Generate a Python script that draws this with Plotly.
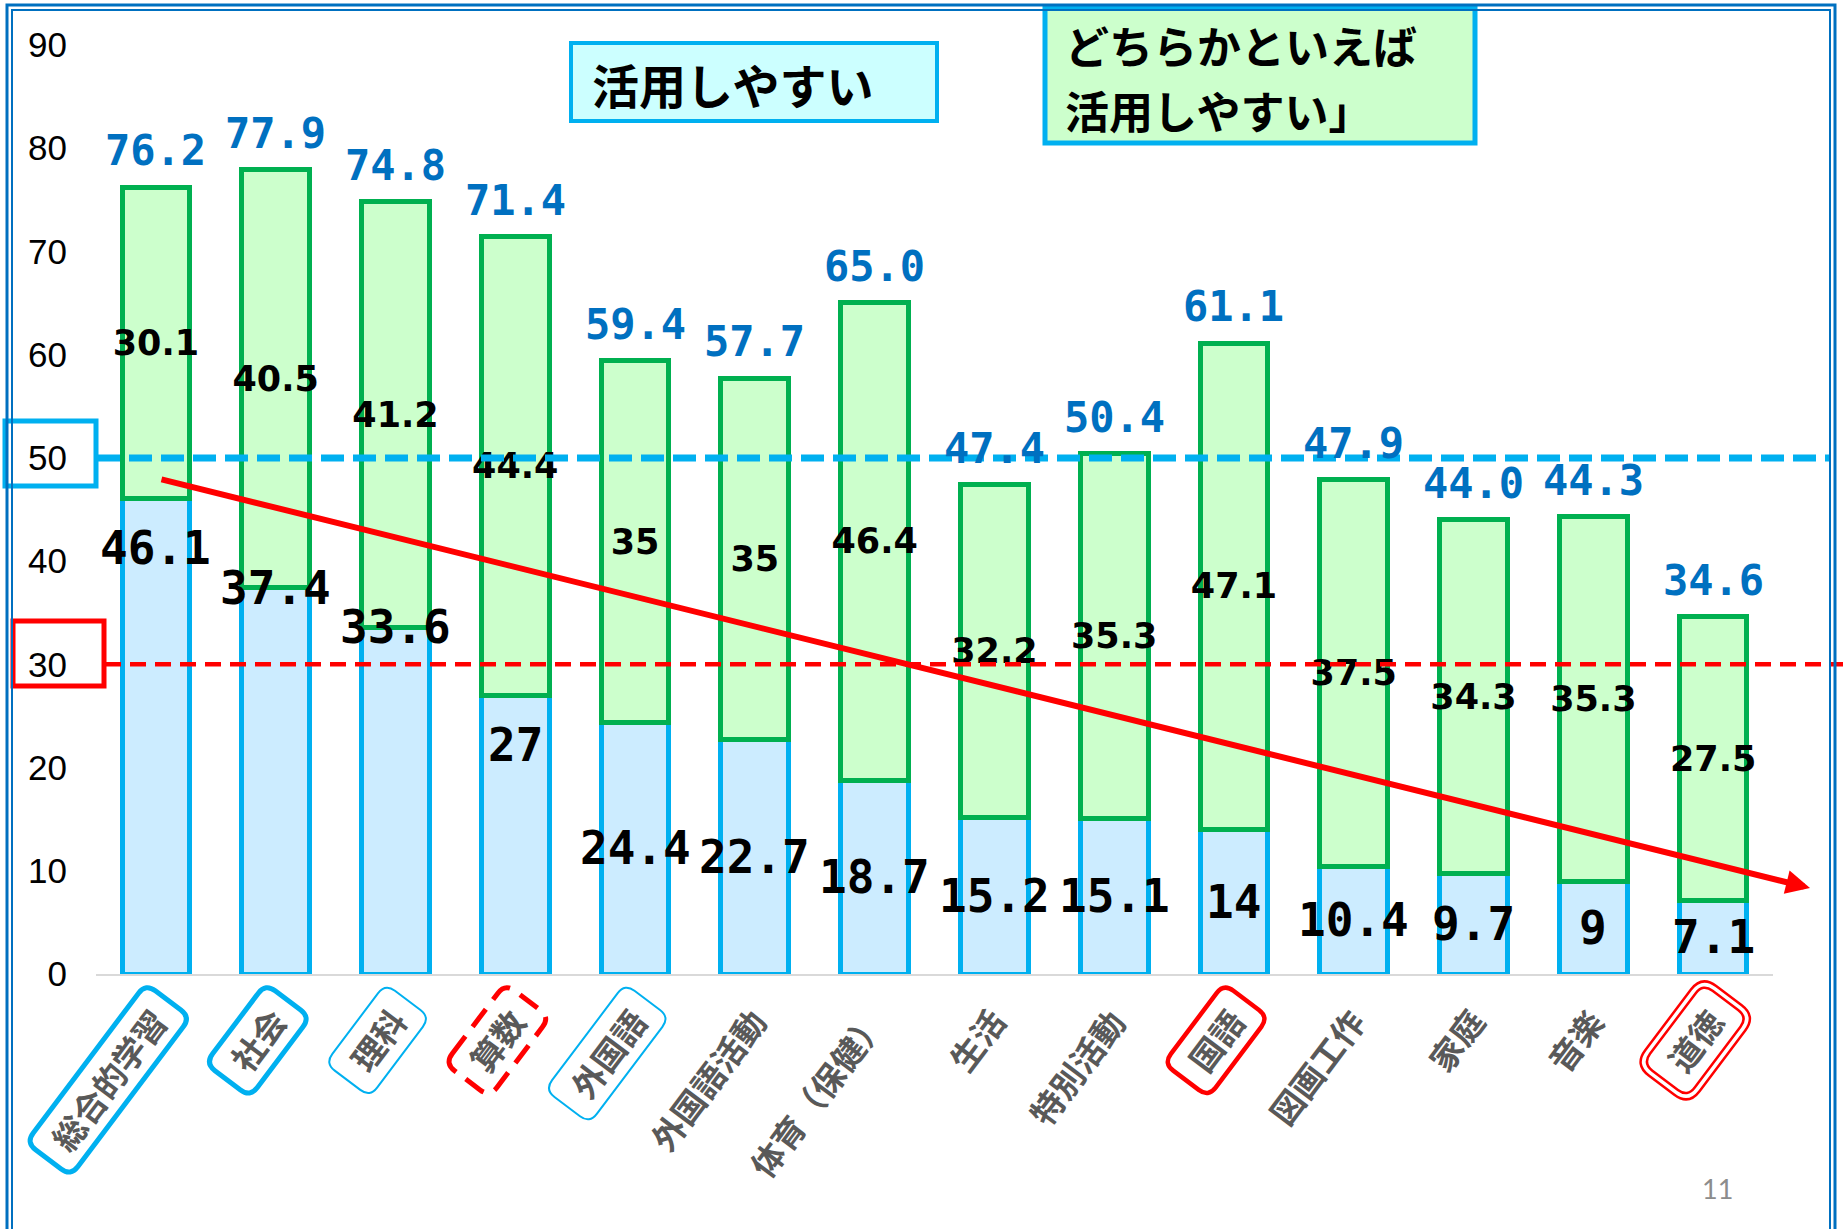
import math
import plotly.graph_objects as go

# ---- data ----
categories = ["総合的学習", "社会", "理科", "算数", "外国語", "外国語活動", "体育（保健）",
              "生活", "特別活動", "国語", "図画工作", "家庭", "音楽", "道徳"]
easy = [46.1, 37.4, 33.6, 27, 24.4, 22.7, 18.7, 15.2, 15.1, 14, 10.4, 9.7, 9, 7.1]
rather_easy = [30.1, 40.5, 41.2, 44.4, 35, 35, 46.4, 32.2, 35.3, 47.1, 37.5, 34.3, 35.3, 27.5]
totals = [76.2, 77.9, 74.8, 71.4, 59.4, 57.7, 65.0, 47.4, 50.4, 61.1, 47.9, 44.0, 44.3, 34.6]
y_ticks = [0, 10, 20, 30, 40, 50, 60, 70, 80, 90]
reference_high = 50
reference_low = 30
legend_easy = "活用しやすい"
legend_rather = ["どちらかといえば", "活用しやすい」"]

# ---- page geometry (pixels) ----
FIG_W, FIG_H = 1843, 1229
ML, MR, MT, MB = 96, 70, 45, 255
PW = FIG_W - ML - MR
PH = FIG_H - MT - MB
N = len(categories)
STEP = PW / N


def px2x(px):
    return (px - ML) / PW


def py2y(py):
    return (MT + PH - py) / PH


def bar_px(i):
    return ML + (i + 0.5) * STEP


def rounded_box_path(cx, cy, half_len, half_h, angle_deg, r):
    th = math.radians(angle_deg)
    ux, uy = math.cos(th), -math.sin(th)
    vx, vy = math.sin(th), math.cos(th)

    def p(s, t):
        X = cx + s * ux + t * vx
        Y = cy + s * uy + t * vy
        return f"{px2x(X):.5f},{py2y(Y):.5f}"

    a, b = half_len, half_h
    return (f"M{p(-a + r, -b)} L{p(a - r, -b)} Q{p(a, -b)} {p(a, -b + r)} "
            f"L{p(a, b - r)} Q{p(a, b)} {p(a - r, b)} L{p(-a + r, b)} "
            f"Q{p(-a, b)} {p(-a, b - r)} L{p(-a, -b + r)} Q{p(-a, -b)} {p(-a + r, -b)} Z")


def label_text(v):
    return f"{v:g}"


BLUE_LINE = "#00B0F0"
BLUE_FILL = "#CCECFF"
GREEN_LINE = "#00B050"
GREEN_FILL = "#CCFFCC"
RED = "#FF0000"
FRAME = "#0070C0"
NUM_FONT = "DejaVu Sans Mono"
JP_FONT = "Noto Sans CJK JP"

fig = go.Figure()

fig.add_trace(go.Bar(
    x=categories, y=easy, name=legend_easy,
    marker=dict(color=BLUE_FILL, line=dict(color=BLUE_LINE, width=5)),
    width=0.565, hoverinfo="skip",
))
fig.add_trace(go.Bar(
    x=categories, y=rather_easy, name="".join(legend_rather),
    marker=dict(color=GREEN_FILL, line=dict(color=GREEN_LINE, width=5)),
    width=0.565, hoverinfo="skip",
    text=[label_text(v) for v in rather_easy],
    textposition="inside", insidetextanchor="middle", constraintext="none", textangle=0,
    insidetextfont=dict(family="DejaVu Sans", size=35, color="black", weight=700),
))

annotations = []

# totals above each stack
for c, t in zip(categories, totals):
    annotations.append(dict(
        x=c, y=t, xref="x", yref="y", text=f"{t:.1f}", showarrow=False,
        yanchor="bottom", yshift=10,
        font=dict(family=NUM_FONT, size=42, color="#0070C0", weight=700),
    ))

# values of the lower segment
easy_label_place = ["below_top", "on_top", "on_top", "below_top"] + ["middle"] * (N - 4)
for c, v, place in zip(categories, easy, easy_label_place):
    if place == "middle":
        yv, shift = v / 2, 0
    elif place == "on_top":
        yv, shift = v, 0
    else:
        yv, shift = v, -50
    annotations.append(dict(
        x=c, y=yv, xref="x", yref="y", text=label_text(v), showarrow=False,
        yanchor="middle", yshift=shift,
        font=dict(family=NUM_FONT, size=46, color="black", weight=700),
    ))

# rotated category labels under the axis
ANGLE = 53
CAT_FS = 33
shapes = []
box_styles = {
    "総合的学習": [dict(color=BLUE_LINE, width=5)],
    "社会": [dict(color=BLUE_LINE, width=5)],
    "理科": [dict(color=BLUE_LINE, width=2)],
    "算数": [dict(color=RED, width=5, dash="22px,12px")],
    "外国語": [dict(color=BLUE_LINE, width=2)],
    "国語": [dict(color=RED, width=4.5)],
    "道徳": [dict(color=RED, width=2.5, grow=0), dict(color=RED, width=2.5, grow=6)],
}
th = math.radians(ANGLE)
for i, name in enumerate(categories):
    L = len(name) * CAT_FS
    ex, ey = bar_px(i) + 2, 1014
    cx = ex - math.cos(th) * L / 2
    cy = ey + math.sin(th) * L / 2
    annotations.append(dict(
        x=px2x(cx), y=py2y(cy), xref="paper", yref="paper", text=name,
        showarrow=False, textangle=-ANGLE, xanchor="center", yanchor="middle",
        font=dict(family=JP_FONT, size=CAT_FS, color="#595959", weight=700),
    ))
    for st in box_styles.get(name, []):
        g = st.get("grow", 0)
        shapes.append(dict(
            type="path", xref="paper", yref="paper",
            path=rounded_box_path(cx, cy, L / 2 + 17 + g, 28 + g, ANGLE, 12 + g),
            line=dict(color=st["color"], width=st["width"], dash=st.get("dash", "solid")),
            fillcolor="rgba(0,0,0,0)", layer="above",
        ))

# legend-style boxes
shapes.append(dict(type="rect", xref="paper", yref="paper",
                   x0=px2x(571), x1=px2x(937), y0=py2y(121), y1=py2y(43),
                   line=dict(color=BLUE_LINE, width=4), fillcolor="#CCFFFF", layer="above"))
shapes.append(dict(type="rect", xref="paper", yref="paper",
                   x0=px2x(1045), x1=px2x(1475), y0=py2y(143), y1=py2y(7),
                   line=dict(color=BLUE_LINE, width=5), fillcolor=GREEN_FILL, layer="above"))
annotations.append(dict(
    x=px2x(590), y=py2y(83), xref="paper", yref="paper", text=legend_easy,
    showarrow=False, xanchor="left", yanchor="middle",
    font=dict(family=JP_FONT, size=47, color="black", weight=700),
))
for line_text, line_y in zip(legend_rather, [45, 110]):
    annotations.append(dict(
        x=px2x(1064), y=py2y(line_y), xref="paper", yref="paper", text=line_text,
        showarrow=False, xanchor="left", yanchor="middle", borderpad=0,
        font=dict(family=JP_FONT, size=44, color="black", weight=700),
    ))

# boxes around the 50 / 30 tick labels
shapes.append(dict(type="rect", xref="paper", yref="paper",
                   x0=px2x(5), x1=px2x(96), y0=py2y(486), y1=py2y(421),
                   line=dict(color=BLUE_LINE, width=5), fillcolor="rgba(0,0,0,0)", layer="above"))
shapes.append(dict(type="rect", xref="paper", yref="paper",
                   x0=px2x(13), x1=px2x(104), y0=py2y(686), y1=py2y(621),
                   line=dict(color=RED, width=5), fillcolor="rgba(0,0,0,0)", layer="above"))

# reference levels
shapes.append(dict(type="line", xref="paper", yref="y",
                   x0=px2x(97), x1=px2x(1830), y0=reference_high, y1=reference_high,
                   line=dict(color=BLUE_LINE, width=7, dash="23px,9px"), layer="above"))
shapes.append(dict(type="line", xref="paper", yref="y",
                   x0=px2x(105), x1=px2x(1843), y0=reference_low, y1=reference_low,
                   line=dict(color=RED, width=4.5, dash="16px,9px"), layer="above"))

# slide frame (double line)
shapes.append(dict(type="rect", xref="paper", yref="paper",
                   x0=px2x(7), x1=px2x(1835), y0=py2y(1260), y1=py2y(5),
                   line=dict(color=FRAME, width=3), fillcolor="rgba(0,0,0,0)", layer="above"))
shapes.append(dict(type="rect", xref="paper", yref="paper",
                   x0=px2x(12), x1=px2x(1830), y0=py2y(1260), y1=py2y(10),
                   line=dict(color=FRAME, width=2), fillcolor="rgba(0,0,0,0)", layer="above"))

# downward trend arrow
tip_x, tip_y = 1810, 888
tail_x, tail_y = 160, 479
annotations.append(dict(
    x=px2x(tip_x), y=py2y(tip_y), xref="paper", yref="paper", text="",
    showarrow=True, ax=tail_x - tip_x, ay=tail_y - tip_y, axref="pixel", ayref="pixel",
    arrowhead=2, arrowsize=0.8, arrowwidth=6, arrowcolor=RED, standoff=0,
))

# page number
annotations.append(dict(
    x=px2x(1717), y=py2y(1188), xref="paper", yref="paper", text="11",
    showarrow=False, xanchor="center", yanchor="middle",
    font=dict(family="Lato", size=27, color="#8C8C8C"),
))

fig.update_layout(
    width=FIG_W, height=FIG_H,
    margin=dict(l=ML, r=MR, t=MT, b=MB, autoexpand=False),
    barmode="stack", bargap=0.435,
    plot_bgcolor="white", paper_bgcolor="white",
    showlegend=False,
    shapes=shapes, annotations=annotations,
    xaxis=dict(type="category", range=[-0.5, N - 0.5], showticklabels=False, ticks="",
               showgrid=False, zeroline=False, showline=True, linecolor="#D9D9D9", linewidth=2),
    yaxis=dict(range=[0, 90], tickvals=y_ticks, ticks="", showgrid=False, zeroline=False,
               showline=False, ticklabelstandoff=28,
               tickfont=dict(family="Liberation Sans", size=35, color="black")),
)

fig.write_html("out.html")
